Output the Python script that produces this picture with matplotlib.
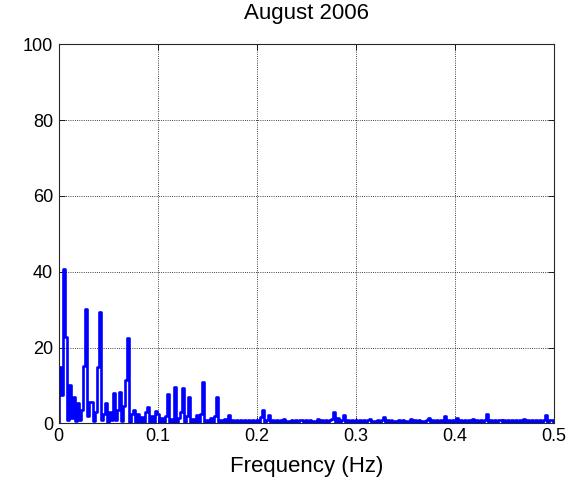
import numpy as np
import matplotlib
matplotlib.use('Agg')
import matplotlib.pyplot as plt

plt.rcParams['font.family'] = ['Liberation Sans', 'DejaVu Sans']

# power spectrum, one value every 0.002 Hz from 0 to 0.5 Hz
psd = [
	0.5, 14.8, 7.5, 40.7, 22.9, 0.8, 10.2, 1.5, 7.0, 0.6,      # 0.00
	5.5, 0.8, 3.5, 15.2, 30.2, 2.0, 5.8, 5.8, 0.6, 3.0,        # 0.02
	15.0, 29.3, 0.8, 2.5, 5.5, 0.5, 3.0, 0.8, 8.0, 1.0,        # 0.04
	3.5, 8.2, 0.7, 4.5, 11.5, 22.5, 0.5, 2.5, 3.6, 0.4,        # 0.06
	2.5, 0.5, 1.8, 0.4, 3.0, 4.4, 0.5, 2.0, 0.4, 3.3,          # 0.08
	2.6, 0.3, 1.5, 0.3, 2.0, 7.7, 0.4, 1.2, 0.3, 9.7,          # 0.10
	0.4, 1.5, 3.0, 9.3, 0.3, 2.0, 6.9, 0.3, 1.2, 0.4,          # 0.12
	2.2, 0.3, 2.5, 10.9, 0.4, 1.0, 0.3, 1.4, 0.3, 2.0,         # 0.14
	7.1, 0.3, 1.0, 0.2, 1.2, 0.3, 2.2, 0.2, 0.9, 0.2,          # 0.16
	0.8, 0.2, 0.9, 0.1, 0.8, 0.2, 1.0, 0.2, 0.8, 0.1,          # 0.18
	0.9, 0.2, 1.8, 3.6, 0.2, 0.9, 2.2, 0.2, 0.8, 0.1,          # 0.20
	0.9, 0.2, 0.8, 0.1, 1.2, 0.2, 0.7, 0.1, 0.9, 0.2,          # 0.22
	0.8, 0.1, 0.9, 1.0, 0.2, 0.8, 0.1, 0.9, 0.2, 0.7,          # 0.24
	0.1, 1.1, 0.2, 0.8, 0.1, 0.9, 0.2, 0.8, 1.2, 3.1,          # 0.26
	0.3, 1.4, 0.2, 0.9, 2.2, 0.2, 0.8, 0.1, 0.9, 0.2,          # 0.28
	1.0, 0.1, 0.8, 0.2, 0.9, 0.1, 0.8, 1.1, 0.2, 0.7,          # 0.30
	0.1, 0.9, 0.2, 0.8, 1.8, 0.2, 0.9, 0.1, 0.8, 0.2,          # 0.32
	0.7, 0.1, 0.9, 0.2, 0.8, 0.1, 0.7, 0.2, 1.3, 0.1,          # 0.34
	0.8, 0.2, 0.9, 0.1, 0.7, 0.2, 0.9, 1.5, 0.1, 0.8,          # 0.36
	0.2, 0.9, 0.1, 0.8, 0.2, 2.0, 0.3, 0.8, 0.1, 0.9,          # 0.38
	0.2, 1.5, 0.1, 0.8, 0.2, 0.9, 0.1, 0.8, 0.2, 1.3,          # 0.40
	0.1, 0.8, 0.2, 0.9, 0.1, 0.8, 2.4, 0.2, 0.9, 0.1,          # 0.42
	0.8, 0.2, 0.9, 1.0, 0.1, 0.8, 0.2, 0.9, 0.1, 0.8,          # 0.44
	0.2, 0.9, 0.1, 0.8, 0.2, 1.1, 0.1, 0.9, 0.2, 0.8,          # 0.46
	0.1, 0.9, 0.2, 0.8, 0.1, 0.9, 2.3, 0.2, 0.8, 1.0, 0.2,     # 0.48
]
freq = np.arange(len(psd)) * 0.002

xticks = [0, 0.1, 0.2, 0.3, 0.4, 0.5]
xlabels = ['0', '0.1', '0.2', '0.3', '0.4', '0.5']
yticks = [0, 20, 40, 60, 80, 100]

fig = plt.figure(figsize=(5.77, 4.83), dpi=100)
ax = fig.add_axes([0.1014, 0.1232, 0.8588, 0.7851])

ax.plot(freq, psd, color='#0000ff', linewidth=1.9, drawstyle='steps-mid')

ax.set_xlim(0, 0.5)
ax.set_ylim(0, 100)
ax.set_xticks(xticks)
ax.set_xticklabels(xlabels)
ax.set_yticks(yticks)
ax.tick_params(direction='in', top=True, right=True, length=4, width=0.6,
			   labelsize=13, colors='black')
ax.tick_params(axis='x', pad=3)
ax.tick_params(axis='y', pad=4)
ax.grid(True, linestyle=':', color='black', linewidth=0.6)
for s in ax.spines.values():
	s.set_linewidth(0.8)
	s.set_color('#262626')

ax.set_title('August 2006', fontsize=16, pad=18)
ax.set_xlabel('Frequency (Hz)', fontsize=16, labelpad=8)

fig.savefig('out.png', dpi=100)
